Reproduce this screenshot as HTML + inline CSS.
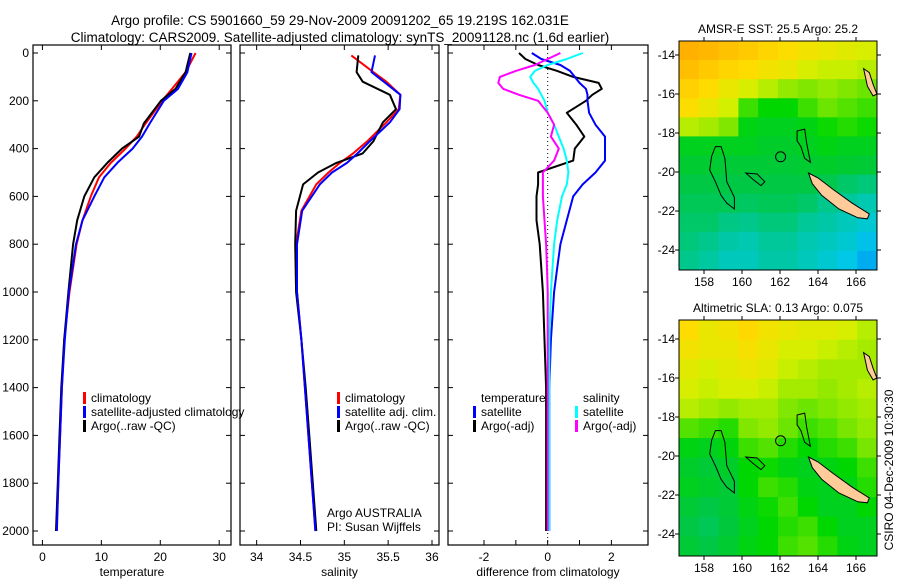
<!DOCTYPE html>
<html><head><meta charset="utf-8">
<style>
html,body{margin:0;padding:0;background:#fff;}
svg{display:block;font-family:"Liberation Sans",sans-serif;}
</style></head>
<body>
<svg id="fig" width="900" height="580" viewBox="0 0 900 580" xmlns="http://www.w3.org/2000/svg">
<text x="340" y="25" font-size="13.5" text-anchor="middle">Argo profile: CS 5901660_59 29-Nov-2009 20091202_65 19.219S 162.031E</text>
<text x="340" y="42" font-size="13.5" text-anchor="middle">Climatology: CARS2009. Satellite-adjusted climatology: synTS_20091128.nc (1.6d earlier)</text>
<text transform="translate(893,470) rotate(-90)" font-size="12" text-anchor="middle">CSIRO 04-Dec-2009 10:30:30</text>
<g id="plots"></g>
</svg>
<script>
// ---- profile data ----
const tDepths = [0,80,150,200,295,350,400,460,520,600,700,800,1000,1200,1400,1600,1800,2000];
const tempClim = [26.0,24.3,22.0,20.3,17.5,16.0,14.1,11.6,9.6,8.2,6.8,5.8,4.6,3.7,3.3,3.0,2.7,2.4];
const tempArgo = [25.1,24.3,22.6,20.1,17.2,16.4,13.5,11.0,8.8,7.1,5.9,5.2,4.4,3.7,3.2,2.9,2.6,2.3];
const tempSat  = [25.3,24.6,23.0,20.6,18.2,16.9,15.3,12.7,10.5,8.8,6.8,5.7,4.5,3.8,3.3,3.0,2.7,2.45];
const sDepths = [10,80,120,175,235,290,370,420,460,500,550,660,800,1000,1200,1400,1600,1800,2000];
const salClim = [35.08,35.33,35.48,35.64,35.62,35.48,35.26,35.1,34.95,34.82,34.68,34.51,34.45,34.46,34.51,34.55,34.59,34.63,34.67];
const salSat  = [35.35,35.31,35.45,35.64,35.63,35.52,35.29,35.15,35.03,34.86,34.72,34.52,34.46,34.46,34.51,34.55,34.59,34.63,34.67];
const salArgo = [35.16,35.14,35.21,35.52,35.59,35.44,35.33,35.21,34.91,34.7,34.53,34.45,34.44,34.45,34.51,34.56,34.6,34.64,34.68];
const diffDepths = [0,25,50,75,100,125,150,175,200,250,300,350,400,450,500,550,600,700,800,900,1000,1200,1400,1600,1800,2000];
const dTempArgo = [-0.9,-0.7,-0.3,0.3,0.8,1.6,1.7,1.4,1.2,0.6,0.9,1.15,0.85,0.8,-0.3,-0.3,-0.35,-0.35,-0.25,-0.2,-0.15,-0.1,-0.05,-0.05,-0.05,-0.05];
const dTempSat  = [-0.5,-0.2,0.4,0.7,0.85,1.0,1.2,1.25,1.25,1.3,1.5,1.8,1.8,1.8,1.5,1.1,0.8,0.6,0.4,0.3,0.2,0.1,0.05,0.05,0.05,0.05];
const dSalSat   = [1.1,0.6,0.0,-0.4,-0.55,-0.45,-0.3,-0.2,-0.1,0.0,0.2,0.35,0.5,0.6,0.65,0.6,0.45,0.3,0.2,0.15,0.1,0.05,0.05,0.05,0.05,0.05];
const dSalArgo  = [0.4,0.0,-0.4,-1.0,-1.5,-1.55,-1.4,-0.9,-0.3,0.0,0.2,0.1,0.35,0.2,-0.15,-0.15,-0.15,-0.1,-0.05,-0.02,0,0,0,0,0,0];
const depthTicks = [0,200,400,600,800,1000,1200,1400,1600,1800,2000];
const tempTicks = [0,10,20,30];
const salTicks = [34,34.5,35,35.5,36];
const diffTicks = [-2,-1,0,1,2];
const diffTickLabels = [-2,0,2];
// ---- map data (normalised colour index 0..1) ----
const sstGrid = [
[.97,.95,.92,.9,.87,.84,.82,.8,.78,.76],
[.93,.9,.87,.85,.82,.8,.76,.74,.74,.72],
[.88,.85,.8,.76,.72,.68,.66,.68,.66,.64],
[.84,.8,.75,.6,.55,.55,.6,.64,.62,.6],
[.72,.7,.66,.52,.5,.5,.52,.56,.58,.56],
[.5,.5,.5,.5,.48,.48,.5,.52,.5,.5],
[.47,.47,.46,.46,.46,.46,.47,.48,.47,.46],
[.44,.44,.44,.44,.44,.44,.44,.43,.4,.38],
[.42,.42,.42,.41,.42,.42,.4,.36,.34,.3],
[.4,.4,.37,.36,.38,.38,.35,.32,.28,.24],
[.38,.36,.32,.3,.34,.34,.3,.27,.24,.18],
[.36,.33,.28,.28,.32,.32,.28,.24,.2,.12]];
const slaGrid = [
[.85,.8,.82,.86,.82,.8,.78,.78,.76,.72],
[.82,.8,.8,.83,.8,.76,.76,.74,.72,.7],
[.78,.76,.78,.8,.78,.74,.72,.7,.7,.7],
[.76,.74,.76,.76,.74,.7,.7,.68,.7,.72],
[.72,.7,.68,.7,.7,.66,.64,.66,.68,.7],
[.62,.6,.58,.66,.68,.64,.6,.62,.65,.68],
[.52,.5,.53,.6,.62,.58,.55,.58,.6,.65],
[.48,.46,.48,.55,.56,.52,.5,.52,.55,.6],
[.5,.48,.46,.55,.6,.58,.52,.5,.52,.58],
[.46,.44,.46,.52,.56,.6,.55,.5,.5,.55],
[.44,.42,.45,.5,.55,.58,.6,.55,.5,.5],
[.46,.44,.47,.52,.55,.6,.62,.58,.52,.5]];
const lonTicks = [158,160,162,164,166];
const latTicks = [-14,-16,-18,-20,-22,-24];
const newCaledonia = [[163.5,-20.05],[164.0,-20.3],[164.8,-20.9],[165.8,-21.6],[166.7,-22.15],[166.6,-22.4],[166.1,-22.35],[165.1,-21.9],[164.2,-21.2],[163.7,-20.6]];
const vanuatu = [[166.4,-14.7],[166.7,-14.9],[166.9,-15.5],[167.1,-16.0],[166.9,-16.1],[166.6,-15.6]];
const chesterfield = [[158.6,-18.7],[158.9,-18.7],[159.1,-19.3],[159.2,-20.5],[159.6,-21.3],[159.6,-21.9],[159.2,-21.6],[158.9,-21.2],[158.6,-20.5],[158.3,-19.9],[158.4,-19.2]];
const bellona = [[160.2,-20.05],[160.8,-20.1],[161.2,-20.5],[161.0,-20.7],[160.6,-20.4]];
const seamount = [[162.9,-17.9],[163.3,-17.8],[163.4,-18.5],[163.6,-19.5],[163.3,-19.3],[163.1,-18.7],[162.9,-18.4]];
const argoPos = [162.031,-19.219];

const NS='http://www.w3.org/2000/svg';
const root=document.getElementById('plots');
function el(tag,attrs,parent,txt){const e=document.createElementNS(NS,tag);for(const k in attrs)e.setAttribute(k,attrs[k]);if(txt!==undefined)e.textContent=txt;(parent||root).appendChild(e);return e;}

const PT=45, PB=545;
const yD=d=>53+d*0.239;

function panel(name,x0,x1,xmin,xmax,ticks,tickLabels,xlabel,showY){
  const g=el('g',{});
  
  
  const sx=v=>x0+(v-xmin)/(xmax-xmin)*(x1-x0);
  const fr=el('rect',{x:x0,y:PT,width:x1-x0,height:PB-PT,fill:'none',stroke:'#000','stroke-width':1.2},g);
  
  
  ticks.forEach(t=>{const X=sx(t);el('line',{x1:X,x2:X,y1:PB,y2:PB-5,stroke:'#000'},g);el('line',{x1:X,x2:X,y1:PT,y2:PT+5,stroke:'#000'},g);});
  tickLabels.forEach(t=>{const tx=el('text',{x:sx(t),y:561,'font-size':12,'text-anchor':'middle'},g,String(t));});
  depthTicks.forEach(d=>{const Y=yD(d);el('line',{x1:x0,x2:x0+5,y1:Y,y2:Y,stroke:'#000'},g);el('line',{x1:x1,x2:x1-5,y1:Y,y2:Y,stroke:'#000'},g);
    if(showY){const tx=el('text',{x:x0-4,y:Y+4,'font-size':12,'text-anchor':'end'},g,String(d));}});
  const xl=el('text',{x:(x0+x1)/2,y:576,'font-size':12,'text-anchor':'middle'},g,xlabel);
  
  
  return {g,sx};
}
function series(p,xs,ds,color,name,w){
  const pts=xs.map((v,i)=>p.sx(v).toFixed(1)+','+yD(ds[i]).toFixed(1)).join(' ');
  const l=el('polyline',{points:pts,fill:'none',stroke:color,'stroke-width':w||2,'stroke-linejoin':'round'},p.g);
  
  
}
function legend(g,x,y,color,label){
  const lg=el('g',{},g);
  
  
  el('rect',{x:x,y:y-10,width:3,height:12,fill:color},lg);
  el('text',{x:x+8,y:y,'font-size':12},lg,label);
}

// panel 1
const p1=panel('temperature-panel',33,231,-1.6,32,tempTicks,tempTicks,'temperature',true);
series(p1,tempClim,tDepths,'#f00','climatology-temp-line');
series(p1,tempArgo,tDepths,'#000','argo-temp-line');
series(p1,tempSat,tDepths,'#00f','satellite-temp-line');
legend(p1.g,83,402,'#f00','climatology');
legend(p1.g,83,416,'#00f','satellite-adjusted climatology');
legend(p1.g,83,430,'#000','Argo(..raw -QC)');
// panel 2
const p2=panel('salinity-panel',240,439,33.81,36.08,salTicks,salTicks,'salinity',false);
series(p2,salClim,sDepths,'#f00','climatology-salinity-line');
series(p2,salArgo,sDepths,'#000','argo-salinity-line');
series(p2,salSat,sDepths,'#00f','satellite-salinity-line');
legend(p2.g,337,402,'#f00','climatology');
legend(p2.g,337,416,'#00f','satellite adj. clim.');
legend(p2.g,337,430,'#000','Argo(..raw -QC)');
el('text',{x:327,y:517,'font-size':12},p2.g,'Argo AUSTRALIA');
el('text',{x:327,y:531,'font-size':12},p2.g,'PI: Susan Wijffels');
// panel 3
const p3=panel('difference-panel',448,648,-3.13,3.15,diffTicks,diffTickLabels,'difference from climatology',false);
el('line',{x1:p3.sx(0),x2:p3.sx(0),y1:PT,y2:PB,stroke:'#000','stroke-dasharray':'1,3'},p3.g);
series(p3,dTempArgo,diffDepths,'#000','argo-temp-diff-line');
series(p3,dTempSat,diffDepths,'#00f','satellite-temp-diff-line');
series(p3,dSalSat,diffDepths,'#0ff','satellite-salinity-diff-line');
series(p3,dSalArgo,diffDepths,'#f0f','argo-salinity-diff-line');
el('text',{x:481,y:402,'font-size':12},p3.g,'temperature');
el('text',{x:583,y:402,'font-size':12},p3.g,'salinity');
legend(p3.g,473,416,'#00f','satellite');
legend(p3.g,473,430,'#000','Argo(-adj)');
legend(p3.g,575,416,'#0ff','satellite');
legend(p3.g,575,430,'#f0f','Argo(-adj)');

// maps
function cmap(v){
  const stops=[[0,[0,130,255]],[0.2,[0,200,230]],[0.35,[0,200,150]],[0.45,[0,200,60]],[0.55,[0,215,0]],[0.65,[120,230,0]],[0.75,[210,240,0]],[0.85,[255,220,0]],[1,[255,165,0]]];
  for(let i=1;i<stops.length;i++){if(v<=stops[i][0]){const a=stops[i-1],b=stops[i];const t=(v-a[0])/(b[0]-a[0]);return 'rgb('+a[1].map((c,j)=>Math.round(c+(b[1][j]-c)*t)).join(',')+')';}}
  return 'rgb(255,165,0)';
}
function map(name,title,grid,x0,x1,y0,y1,lat14y){
  const g=el('g',{});
  
  
  const lx=lon=>704+(lon-158)*19;
  const ly=lat=>lat14y+(-14-lat)*19.5;
  const rows=grid.length,cols=grid[0].length;
  const cw=(x1-x0)/cols,ch=(y1-y0)/rows;
  grid.forEach((row,r)=>row.forEach((v,c)=>{
    const cell=el('rect',{x:x0+c*cw,y:y0+r*ch,width:cw+0.5,height:ch+0.5,fill:cmap(v)},g);
    
    
  }));
  const poly=(pts,fill,stroke)=>el('polygon',{points:pts.map(p=>lx(p[0]).toFixed(1)+','+ly(p[1]).toFixed(1)).join(' '),fill:fill,stroke:stroke,'stroke-width':1},g);
  poly(chesterfield,'none','#000');poly(bellona,'none','#000');poly(seamount,'none','#000');
  poly(newCaledonia,'#fc9','#000');poly(vanuatu,'#fc9','#000');
  const c=el('circle',{cx:lx(argoPos[0]),cy:ly(argoPos[1]),r:5,fill:'none',stroke:'#000'},g);
  
  
  el('rect',{x:x0,y:y0,width:x1-x0,height:y1-y0,fill:'none',stroke:'#000'},g);
  lonTicks.forEach(t=>{const X=lx(t);el('line',{x1:X,x2:X,y1:y1,y2:y1+4,stroke:'#000'},g);el('line',{x1:X,x2:X,y1:y0,y2:y0-4,stroke:'#000'},g);el('text',{x:X,y:y1+16,'font-size':12,'text-anchor':'middle'},g,String(t));});
  latTicks.forEach(t=>{const Y=ly(t);el('line',{x1:x0,x2:x0-4,y1:Y,y2:Y,stroke:'#000'},g);el('line',{x1:x1,x2:x1+4,y1:Y,y2:Y,stroke:'#000'},g);el('text',{x:x0-4,y:Y+4,'font-size':12,'text-anchor':'end'},g,String(t));});
  const tt=el('text',{x:(x0+x1)/2,y:y0-8,'font-size':12,'text-anchor':'middle'},g,title);
  
  
}
map('sst-map','AMSR-E SST: 25.5 Argo: 25.2',sstGrid,679,877,41,270,55);
map('sla-map','Altimetric SLA: 0.13 Argo: 0.075',slaGrid,679,877,320,556,339);
</script>
</body></html>
